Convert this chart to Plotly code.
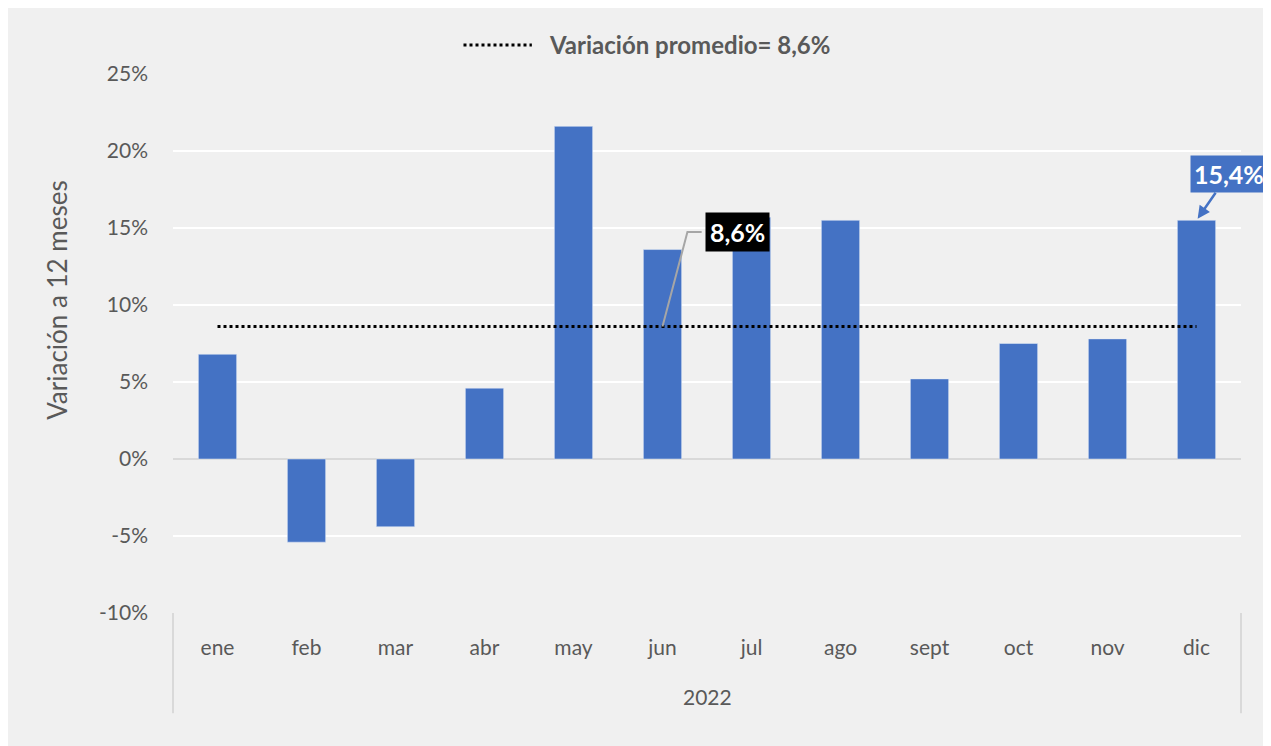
import plotly.graph_objects as go

months = ["ene", "feb", "mar", "abr", "may", "jun", "jul", "ago", "sept", "oct", "nov", "dic"]
values = [6.8, -5.4, -4.4, 4.6, 21.6, 13.6, 15.7, 15.5, 5.2, 7.5, 7.8, 15.5]
average = 8.6
year_label = "2022"
yticks = [-10, -5, 0, 5, 10, 15, 20, 25]
ytick_text = ["-10%", "-5%", "0%", "5%", "10%", "15%", "20%", "25%"]

BLUE = "#4472C4"
GRAY_TXT = "#595959"
BG = "#f0f0f0"
FONT = "Lato, Liberation Sans, sans-serif"

fig = go.Figure()
fig.add_trace(go.Bar(x=months, y=values, marker_color=BLUE, width=0.43,
                     showlegend=False, hoverinfo="x+y"))
fig.add_trace(go.Scatter(x=months, y=[average] * len(months), mode="lines",
                         line=dict(color="black", width=3, dash="dot"),
                         showlegend=False, hoverinfo="skip"))
# leader line from average on 'jun' up to the label
fig.add_trace(go.Scatter(x=[5, 5.28, 5.44], y=[average, 14.74, 14.74], mode="lines",
                         line=dict(color="#a6a6a6", width=2), showlegend=False,
                         hoverinfo="skip", xaxis="x2"))

avg_txt = f"{average:.1f}".replace(".", ",") + "%"
annotations = [
    dict(x=5.84, y=14.74, xref="x2", yref="y", text=f"<b>{avg_txt}</b>",
         showarrow=False, bgcolor="black", font=dict(color="white", size=25, family=FONT),
         borderpad=4),
    dict(x=11, y=values[-1], xref="x2", yref="y", text="<b>15,4%</b>",
         showarrow=True, ax=32, ay=-46, arrowcolor=BLUE, arrowwidth=2.5, arrowhead=2,
         arrowsize=1, bgcolor=BLUE, font=dict(color="white", size=25, family=FONT),
         borderpad=3, standoff=2),
    dict(x=0.5, y=-0.155, xref="paper", yref="paper", text=year_label, showarrow=False,
         font=dict(color=GRAY_TXT, size=21, family=FONT), yanchor="middle"),
    dict(x=0.350, y=1.054, xref="paper", yref="paper", text=f"<b>Variación promedio= {avg_txt}</b>",
         showarrow=False, xanchor="left", yanchor="middle",
         font=dict(color=GRAY_TXT, size=24, family=FONT)),
    dict(x=-0.1086, y=0.581, xref="paper", yref="paper", text="Variación a 12 meses",
         showarrow=False, textangle=-90, xanchor="center", yanchor="middle",
         font=dict(color=GRAY_TXT, size=26, family=FONT)),
]

shapes = [
    # category axis separators
    dict(type="line", xref="paper", yref="paper", x0=0, x1=0, y0=0, y1=-0.186,
         line=dict(color="#d9d9d9", width=2)),
    dict(type="line", xref="paper", yref="paper", x0=1, x1=1, y0=0, y1=-0.186,
         line=dict(color="#d9d9d9", width=2)),
    # legend sample
    dict(type="line", xref="paper", yref="paper", x0=0.272, x1=0.336, y0=1.054, y1=1.054,
         line=dict(color="black", width=3, dash="dot")),
]

fig.update_layout(
    width=1263, height=738,
    margin=dict(l=165, r=30, t=66, b=133),
    paper_bgcolor=BG, plot_bgcolor=BG,
    font=dict(family=FONT, color=GRAY_TXT, size=21),
    bargap=0.57,
    annotations=annotations, shapes=shapes,
    xaxis=dict(type="category", categoryorder="array", categoryarray=months,
               showgrid=False, showline=False, zeroline=False,
               tickfont=dict(size=21, color=GRAY_TXT), ticks="", ticklabelstandoff=20),
    xaxis2=dict(range=[-0.5, 11.5], overlaying="x", visible=False, showgrid=False),
    yaxis=dict(range=[-10, 25], tickvals=yticks, ticktext=ytick_text,
               showgrid=True, gridcolor="white", gridwidth=2,
               zeroline=True, zerolinecolor="#d9d9d9", zerolinewidth=2,
               tickfont=dict(size=21, color=GRAY_TXT), ticks="", ticklabelstandoff=24),
)

fig.write_html("out.html")
